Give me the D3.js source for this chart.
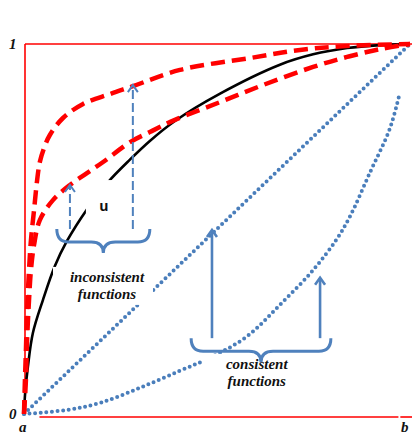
<!DOCTYPE html>
<html lang="en">
<head>
    <meta charset="UTF-8">
    <title>Consistent and inconsistent functions</title>
    <script src="https://d3js.org/d3.v7.min.js"></script>
    <style>
        body { margin: 0; background: #fff; }
        .frame { stroke: #ff0000; stroke-width: 1.6; fill: none; }
        .tick-label { font-family: "Liberation Serif", serif; font-weight: bold; font-style: italic; font-size: 15px; fill: #111; }
        .note { font-family: "Liberation Serif", serif; font-weight: bold; font-style: italic; font-size: 15px; fill: #111; }
        .u-label { font-family: "Open Sans", sans-serif; font-weight: bold; font-size: 14px; fill: #111; }
    </style>
</head>
<body>
    <svg id="chart"></svg>

    <script>
        const width = 412;
        const height = 437;

        // curve points, [x, y] in the unit square
        const upperDashed = [[0,0],[.002,.078],[.005,.173],[.008,.281],[.013,.389],[.018,.47],[.026,.551],[.034,.632],
            [.041,.681],[.052,.719],[.067,.754],[.101,.8],[.153,.838],[.223,.865],[.282,.886],[.404,.93],[.585,.962],
            [.715,.984],[.845,.995],[1,1]];
        const lowerDashed = [[0,0],[.005,.092],[.008,.2],[.013,.308],[.018,.389],[.026,.457],[.041,.524],[.075,.578],
            [.119,.619],[.163,.651],[.205,.681],[.275,.735],[.326,.762],[.391,.795],[.508,.843],[.619,.889],[.749,.938],
            [.837,.965],[.922,.986],[1,1]];
        const utility = [[0,0],[.003,.057],[.01,.127],[.023,.219],[.049,.308],[.08,.4],[.111,.467],[.163,.553],
            [.218,.627],[.275,.688],[.326,.738],[.391,.792],[.508,.866],[.663,.944],[.749,.972],[.837,.989],[.922,.997],[1,1]];
        const diagonal = [[0,0],[1,1]];
        const convex = [[0,0],[.111,.011],[.197,.03],[.301,.071],[.404,.117],[.49,.156],[.578,.21],[.663,.295],
            [.749,.389],[.811,.474],[.845,.535],[.896,.652],[.948,.772],[.974,.87]];

        const yTickLabels = ["0", "1"];
        const xTickLabels = ["a", "b"];

        // annotations, also in unit-square coordinates
        const dashedArrows = [{x: .119, from: .5, to: .619}, {x: .282, from: .5, to: .889}];
        const solidArrows = [{x: .487, from: .205, to: .497}, {x: .767, from: .205, to: .368}];
        const braces = [{x0: .085, x1: .326, y: .5}, {x0: .433, x1: .795, y: .205}];
        const notes = [
            {lines: ["inconsistent", "functions"], x: .215, y: .357},
            {lines: ["consistent", "functions"], x: .603, y: .122}
        ];
        const uLabel = {text: "u", x: .207, y: .562};

        const svg = d3.select("#chart")
                      .attr("width", width)
                      .attr("height", height);

        const x = d3.scaleLinear().domain([0, 1]).range([24, 410]);
        const y = d3.scaleLinear().domain([0, 1]).range([414, 44]);

        // red frame
        svg.append("line").attr("class", "frame")
           .attr("x1", x(0) + 1).attr("x2", x(0) + 1).attr("y1", y(1)).attr("y2", y(0));
        svg.append("line").attr("class", "frame")
           .attr("x1", x(0) + 1).attr("x2", width).attr("y1", y(1)).attr("y2", y(1));
        svg.append("line").attr("class", "frame")
           .attr("x1", x(0.04)).attr("x2", x(0.97)).attr("y1", y(0) + 3).attr("y2", y(0) + 3);
        svg.append("line").attr("class", "frame")
           .attr("x1", x(0.975)).attr("x2", width).attr("y1", y(0) + 3).attr("y2", y(0) + 3);

        // tick labels
        svg.selectAll(".ylab").data(yTickLabels).enter().append("text")
           .attr("class", "tick-label")
           .attr("x", 9).attr("y", (d, i) => y(i) + 5)
           .text(d => d);
        svg.selectAll(".xlab").data(xTickLabels).enter().append("text")
           .attr("class", "tick-label")
           .attr("x", (d, i) => x(i) - (i ? 9 : 5)).attr("y", 432)
           .text(d => d);

        const line = d3.line().x(d => x(d[0])).y(d => y(d[1])).curve(d3.curveCatmullRom.alpha(0.5));

        [convex, diagonal].forEach(pts => {
            svg.append("path").datum(pts).attr("d", line)
               .attr("fill", "none").attr("stroke", "#4a7ebb").attr("stroke-width", 4)
               .attr("stroke-linecap", "round").attr("stroke-dasharray", "0 5.6");
        });
        svg.append("path").datum(utility).attr("d", line)
           .attr("fill", "none").attr("stroke", "#000").attr("stroke-width", 2.6);
        [upperDashed, lowerDashed].forEach(pts => {
            svg.append("path").datum(pts).attr("d", line)
               .attr("fill", "none").attr("stroke", "#ff0000").attr("stroke-width", 4.5)
               .attr("stroke-dasharray", "14 7");
        });

        // white boxes under the labels
        svg.append("rect").attr("fill", "#fff")
           .attr("x", x(uLabel.x) - 18).attr("y", y(uLabel.y) - 26).attr("width", 38).attr("height", 44);
        svg.append("text").attr("class", "u-label")
           .attr("x", x(uLabel.x)).attr("y", y(uLabel.y) + 5).attr("text-anchor", "middle")
           .text(uLabel.text);

        notes.forEach(n => {
            svg.append("rect").attr("fill", "#fff")
               .attr("x", x(n.x) - 54).attr("y", y(n.y) - 15).attr("width", 100).attr("height", 38);
            n.lines.forEach((t, i) => {
                svg.append("text").attr("class", "note")
                   .attr("x", x(n.x)).attr("y", y(n.y) + i * 17).attr("text-anchor", "middle")
                   .text(t);
            });
        });

        // arrows
        const blue = "#4f81bd";
        function arrow(a, dashed) {
            const g = svg.append("g").attr("stroke", blue).attr("fill", "none")
                         .attr("stroke-width", dashed ? 2 : 2.6);
            g.append("line").attr("x1", x(a.x)).attr("x2", x(a.x))
             .attr("y1", y(a.from)).attr("y2", y(a.to) + 1)
             .attr("stroke-dasharray", dashed ? "9 4" : null);
            g.append("path")
             .attr("d", `M${x(a.x) - 5},${y(a.to) + 7}L${x(a.x)},${y(a.to)}L${x(a.x) + 5},${y(a.to) + 7}`)
             .attr("stroke-linejoin", "miter");
        }
        dashedArrows.forEach(a => arrow(a, true));
        solidArrows.forEach(a => arrow(a, false));

        // curly braces
        braces.forEach(b => {
            const x0 = x(b.x0), x1 = x(b.x1), xc = (x0 + x1) / 2;
            const y0 = y(b.y), ym = y0 + 13, yt = ym + 11, r = 12;
            const d = `M${x0},${y0}Q${x0},${ym} ${x0 + r},${ym}L${xc - r},${ym}Q${xc},${ym} ${xc},${yt}` +
                      `Q${xc},${ym} ${xc + r},${ym}L${x1 - r},${ym}Q${x1},${ym} ${x1},${y0}`;
            svg.append("path").attr("d", d)
               .attr("fill", "none").attr("stroke", blue).attr("stroke-width", 3);
        });
    </script>
</body>
</html>
